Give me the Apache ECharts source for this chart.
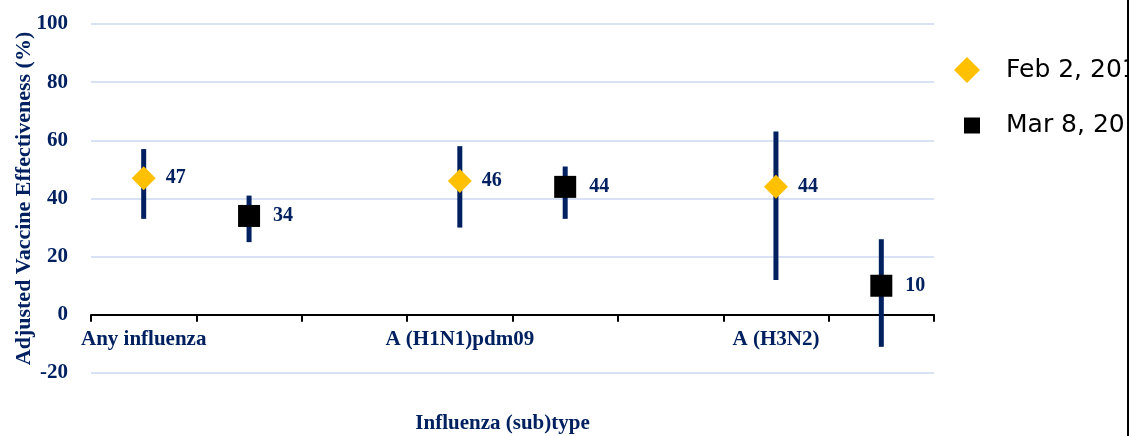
<!DOCTYPE html>
<html>
<head>
<meta charset="utf-8">
<script src="https://cdn.jsdelivr.net/npm/echarts@6/dist/echarts.min.js"></script>
<style>
html,body{margin:0;padding:0;background:#fff;}
#chart{width:1138px;height:436px;}
</style>
</head>
<body>
<div id="chart"></div>
<script>
// Category slots (3 per group: Feb, Mar, gap)
const categories = ['Any influenza', '', '', 'A (H1N1)pdm09', '', '', 'A (H3N2)', ''];
const febSlots = [0, 3, 6];
const marSlots = [1, 4, 7];
const febVE = [47, 46, 44];
const febLow = [33, 30, 12];
const febHigh = [57, 58, 63];
const marVE = [34, 44, 10];
const marLow = [25, 33, -11];
const marHigh = [41, 51, 26];
const yTicks = [-20, 0, 20, 40, 60, 80, 100];
const seriesNames = ['Feb 2, 2019', 'Mar 8, 2019'];

const navy = '#002060';
const serif = '"Liberation Serif", "Times New Roman", serif';
const legendFont = '"DejaVu Sans", sans-serif';

const febPts = febSlots.map((s, i) => [s, febVE[i]]);
const marPts = marSlots.map((s, i) => [s, marVE[i]]);
const ciData = febSlots.map((s, i) => [s, febLow[i], febHigh[i]])
  .concat(marSlots.map((s, i) => [s, marLow[i], marHigh[i]]));

const chart = echarts.init(document.getElementById('chart'));
chart.setOption({
  animation: false,
  backgroundColor: '#fff',
  grid: { left: 91, right: 204, top: 24, bottom: 63, containLabel: false, outerBoundsMode: 'none' },
  legend: [
    {
      data: [{ name: seriesNames[0], icon: 'diamond' }],
      orient: 'vertical', left: 954, top: 57, padding: 0,
      itemWidth: 26, itemHeight: 26,
      textStyle: { fontFamily: legendFont, fontSize: 25, color: '#000', padding: [0, 0, 0, 21] },
      selectedMode: false
    },
    {
      data: [{ name: seriesNames[1], icon: 'rect' }],
      orient: 'vertical', left: 964, top: 113, padding: 0,
      itemWidth: 16, itemHeight: 16,
      textStyle: { fontFamily: legendFont, fontSize: 25, color: '#000', padding: [0, 0, 0, 21] },
      selectedMode: false
    }
  ],
  xAxis: {
    type: 'category',
    data: categories,
    boundaryGap: true,
    axisLine: { onZero: true, lineStyle: { color: '#000', width: 2 } },
    axisTick: { show: true, interval: 0, alignWithLabel: false, length: 7, lineStyle: { color: '#000', width: 2 } },
    axisLabel: { interval: 0, margin: -44, fontFamily: serif, fontWeight: 'bold', fontSize: 21, color: navy },
    name: 'Influenza (sub)type',
    nameLocation: 'middle',
    nameGap: 40,
    nameTextStyle: { fontFamily: serif, fontWeight: 'bold', fontSize: 21, color: navy, padding: [0, 20, 0, 0] },
    splitLine: { show: false }
  },
  yAxis: {
    type: 'value',
    min: yTicks[0], max: yTicks[yTicks.length - 1], interval: 20,
    axisLine: { show: false },
    axisTick: { show: false },
    axisLabel: { margin: 23, fontFamily: serif, fontWeight: 'bold', fontSize: 21, color: navy },
    splitLine: { lineStyle: { color: '#D9E2F5', width: 2 } },
    name: 'Adjusted Vaccine Effectiveness (%)',
    nameLocation: 'middle',
    nameGap: 56,
    nameMoveOverlap: false,
    nameRotate: 90,
    nameTextStyle: { fontFamily: serif, fontWeight: 'bold', fontSize: 22, color: navy }
  },
  series: [
    {
      type: 'custom',
      name: 'CI',
      data: ciData,
      z: 2,
      renderItem: function (params, api) {
        const lo = api.coord([api.value(0), api.value(1)]);
        const hi = api.coord([api.value(0), api.value(2)]);
        return {
          type: 'line',
          shape: { x1: lo[0], y1: lo[1], x2: hi[0], y2: hi[1] },
          style: { stroke: navy, lineWidth: 5, lineCap: 'butt' }
        };
      },
      silent: true
    },
    {
      type: 'scatter',
      name: seriesNames[0],
      data: febPts,
      symbol: 'diamond',
      symbolSize: 24,
      z: 5,
      itemStyle: { color: '#FFC000', opacity: 1 },
      label: { show: true, position: 'right', distance: 10, formatter: p => p.value[1], fontFamily: serif, fontWeight: 'bold', fontSize: 20, color: navy, opacity: 1 }
    },
    {
      type: 'scatter',
      name: seriesNames[1],
      data: marPts,
      symbol: 'rect',
      symbolSize: 22,
      z: 5,
      itemStyle: { color: '#000', opacity: 1 },
      label: { show: true, position: 'right', distance: 13, formatter: p => p.value[1], fontFamily: serif, fontWeight: 'bold', fontSize: 20, color: navy, opacity: 1 }
    }
  ],
  graphic: [
    { type: 'rect', z: 100, shape: { x: 1129, y: 0, width: 9, height: 436 }, style: { fill: '#fff' } },
    { type: 'rect', z: 101, shape: { x: 1127, y: 0, width: 2, height: 436 }, style: { fill: '#000' } }
  ]
});
</script>
</body>
</html>
